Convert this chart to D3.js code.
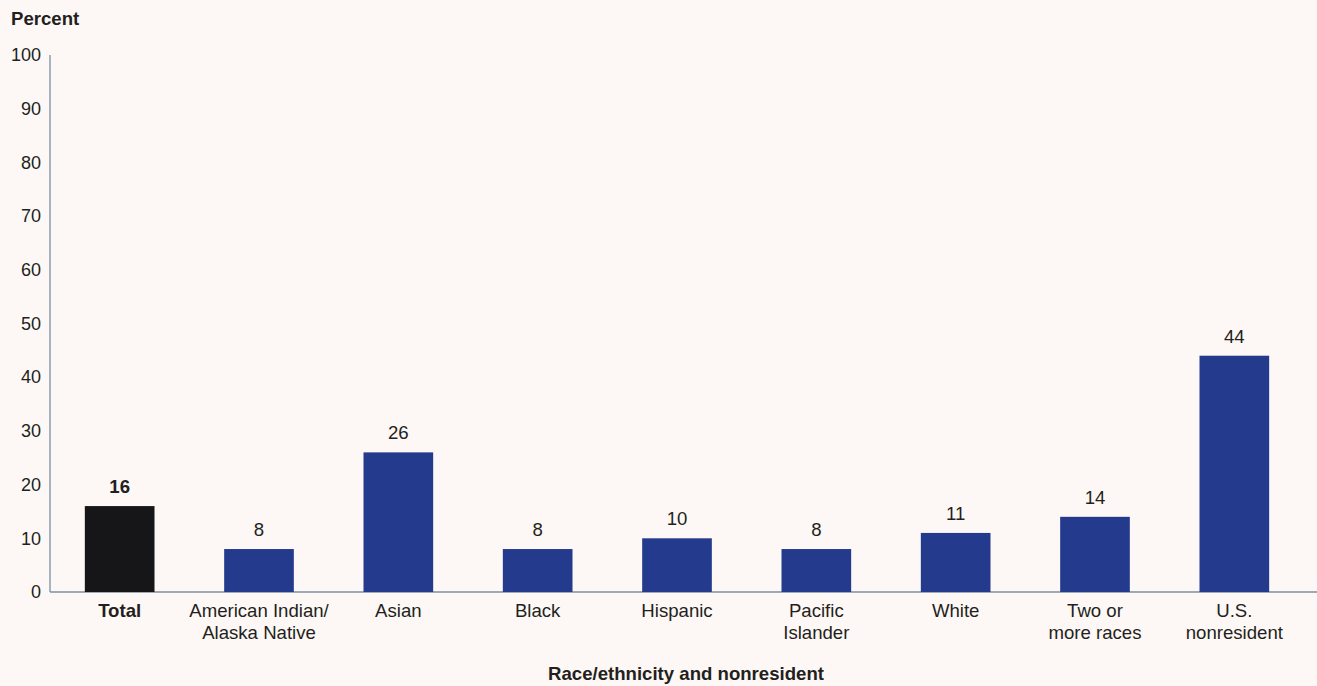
<!DOCTYPE html>
<html>
<head>
<meta charset="utf-8">
<script src="https://cdn.jsdelivr.net/npm/d3@7"></script>
<style>
  html, body { margin: 0; padding: 0; background: #fdf8f5; }
  svg { display: block; }
  svg text { font-family: Arial, "Liberation Sans", sans-serif; }
</style>
</head>
<body>
<svg id="chart" width="1317" height="686"></svg>
<script>
// Categories (multi-line labels split on "\n")
const categories = [
  "Total",
  "American Indian/\nAlaska Native",
  "Asian",
  "Black",
  "Hispanic",
  "Pacific\nIslander",
  "White",
  "Two or\nmore races",
  "U.S.\nnonresident"
];
// Percent values per category
const values = [16, 8, 26, 8, 10, 8, 11, 14, 44];
// Y-axis tick labels
const yTicks = [0, 10, 20, 30, 40, 50, 60, 70, 80, 90, 100];

(function drawChart() {
  const textColor = "#231f20";
  const axisColor = "#7890a2";
  const barColor = "#243a8c";
  const totalColor = "#161618";
  const tickSize = 18;
  const labelSize = 18.6;

  const svg = d3.select("#chart");
  const W = 1317;
  const plotLeft = 50, plotRight = 1304, plotTop = 55, plotBottom = 592;

  const x = d3.scaleBand()
    .domain(categories)
    .range([plotLeft, plotRight])
    .paddingInner(0.5)
    .paddingOuter(0.25);

  const y = d3.scaleLinear().domain([0, 100]).range([plotBottom, plotTop]);

  // Y axis labels
  const yAxis = d3.axisLeft(y).tickValues(yTicks).tickSize(0).tickPadding(9);
  const gy = svg.append("g").attr("transform", `translate(${plotLeft},0)`).call(yAxis);
  gy.attr("font-family", null).attr("font-size", null);
  gy.select(".domain").remove();
  gy.selectAll("text")
    .attr("font-size", tickSize)
    .attr("fill", textColor);

  // Axis lines
  svg.append("line")
    .attr("x1", plotLeft).attr("x2", plotLeft)
    .attr("y1", plotTop).attr("y2", plotBottom)
    .attr("stroke", axisColor).attr("stroke-width", 1.3);
  svg.append("line")
    .attr("x1", plotLeft).attr("x2", W)
    .attr("y1", plotBottom).attr("y2", plotBottom)
    .attr("stroke", axisColor).attr("stroke-width", 1.3);

  // Bars
  const data = categories.map((c, i) => ({ c, v: values[i], i }));
  svg.append("g").selectAll("rect")
    .data(data)
    .join("rect")
    .attr("x", d => x(d.c))
    .attr("width", x.bandwidth())
    .attr("y", d => y(d.v))
    .attr("height", d => y(0) - y(d.v))
    .attr("fill", d => d.i === 0 ? totalColor : barColor);

  // Value labels
  svg.append("g").selectAll("text")
    .data(data)
    .join("text")
    .attr("x", d => x(d.c) + x.bandwidth() / 2)
    .attr("y", d => y(d.v) - 13)
    .attr("text-anchor", "middle")
    .attr("font-size", labelSize)
    .attr("font-weight", d => d.i === 0 ? "bold" : "normal")
    .attr("fill", textColor)
    .text(d => d.v);

  // Category labels
  const catText = svg.append("g").selectAll("text")
    .data(data)
    .join("text")
    .attr("x", d => x(d.c) + x.bandwidth() / 2)
    .attr("y", 617)
    .attr("text-anchor", "middle")
    .attr("font-size", labelSize)
    .attr("font-weight", d => d.i === 0 ? "bold" : "normal")
    .attr("fill", textColor);
  catText.each(function(d) {
    const lines = d.c.split("\n");
    d3.select(this).selectAll("tspan")
      .data(lines)
      .join("tspan")
      .attr("x", x(d.c) + x.bandwidth() / 2)
      .attr("dy", (l, k) => k === 0 ? 0 : 21.5)
      .text(l => l);
  });

  // Y-axis title
  svg.append("text")
    .attr("x", 11).attr("y", 25)
    .attr("font-size", labelSize)
    .attr("font-weight", "bold")
    .attr("fill", textColor)
    .text("Percent");

  // X-axis title
  svg.append("text")
    .attr("x", 686).attr("y", 680)
    .attr("text-anchor", "middle")
    .attr("font-size", labelSize)
    .attr("font-weight", "bold")
    .attr("fill", textColor)
    .text("Race/ethnicity and nonresident");
})();
</script>
</body>
</html>
